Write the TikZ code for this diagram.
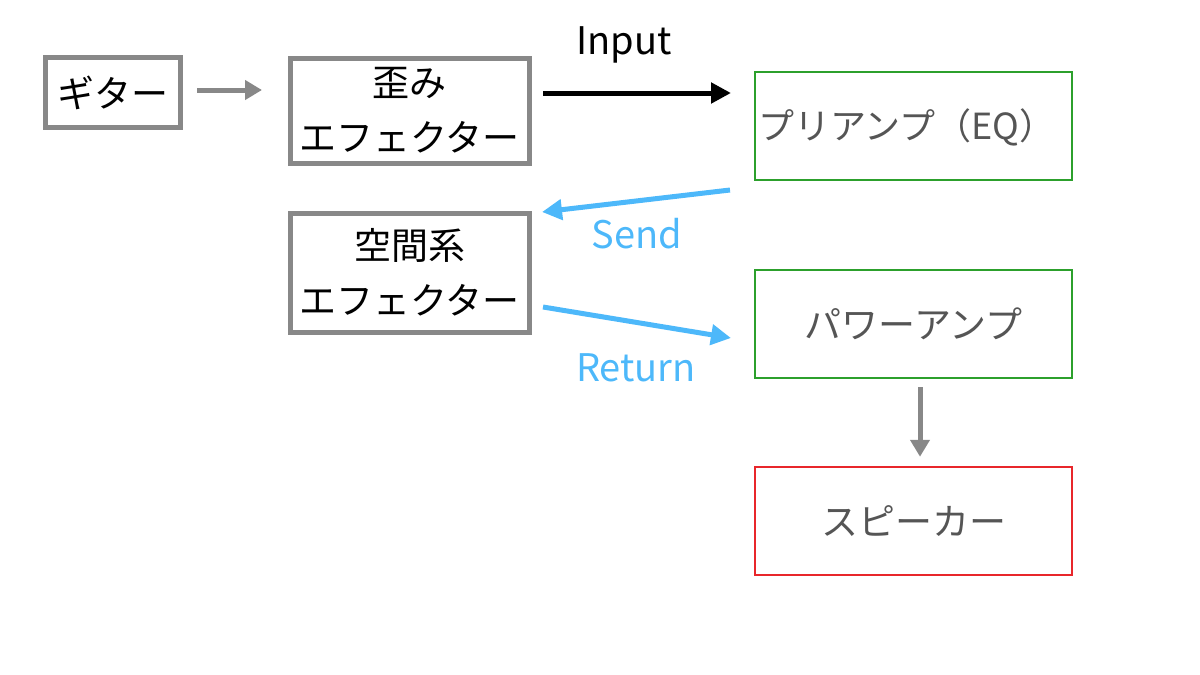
\documentclass[tikz,border=0pt]{standalone}
\usepackage{fontspec}
\setmainfont{Noto Sans CJK JP}
\usetikzlibrary{arrows.meta}
\definecolor{boxgray}{HTML}{888888}
\definecolor{ampgreen}{HTML}{2CA02C}
\definecolor{spkred}{HTML}{E8262B}
\definecolor{fxblue}{HTML}{4DB8FA}
\definecolor{txtgray}{HTML}{555555}
\tikzset{
  fxbox/.style={draw=boxgray, line width=5pt, fill=white, inner sep=0pt, align=center, font=\fontsize{37}{55}\selectfont},
  ampbox/.style={draw=ampgreen, line width=2.5pt, inner sep=0pt, align=center, text=txtgray, font=\fontsize{37}{44}\selectfont},
  spkbox/.style={ampbox, draw=spkred},
  grayarrow/.style={draw=boxgray, line width=5pt, -{Triangle[length=17pt,width=19pt]}},
  blackarrow/.style={draw=black, line width=5pt, -{Triangle[length=20pt,width=20pt]}},
  bluearrow/.style={draw=fxblue, line width=5pt, -{Triangle[length=20pt,width=20pt]}},
  lbl/.style={font=\fontsize{38}{44}\selectfont}
}
\begin{document}
\begin{tikzpicture}[x=1pt,y=-1pt]
\useasboundingbox (0,0) rectangle (1200,675);
\node[fxbox, minimum width=135pt, minimum height=70pt] (guitar) at (113,92.5) {ギター};
\node[fxbox, minimum width=239pt, minimum height=105pt] (dist) at (409.5,110.5) {歪み\\エフェクター};
\node[fxbox, minimum width=239pt, minimum height=119pt] (space) at (409.5,272.5) {空間系\\エフェクター};
\node[ampbox, minimum width=317pt, minimum height=108pt] (pre) at (913.5,126) {};
\node[text=txtgray, font=\fontsize{36}{44}\selectfont] (pretext) at (907,127) {プリアンプ（EQ）};
\node[ampbox, minimum width=317pt, minimum height=108pt] (power) at (913.5,324) {パワーアンプ};
\node[spkbox, minimum width=317pt, minimum height=108pt] (spk) at (913.5,521) {スピーカー};

\coordinate (g1) at (197,90);
\coordinate (g2) at (262,90);
\draw[grayarrow] (g1) -- (g2);

\coordinate (i1) at (543,93);
\coordinate (i2) at (731,93);
\draw[blackarrow] (i1) -- (i2);
\node[lbl] (input) at (624,45) {Input};

\coordinate (s1) at (730,190);
\coordinate (s2) at (542,212);
\draw[bluearrow] (s1) -- (s2);
\node[lbl, text=fxblue] (send) at (637,234) {Send};

\coordinate (r1) at (543,307);
\coordinate (r2) at (731,338);
\draw[bluearrow] (r1) -- (r2);
\node[lbl, text=fxblue] (ret) at (636,368) {Return};

\draw[grayarrow] ([yshift=-8pt]power.south -| 920,0) -- ([yshift=9pt]spk.north -| 920,0);
\end{tikzpicture}
\end{document}
